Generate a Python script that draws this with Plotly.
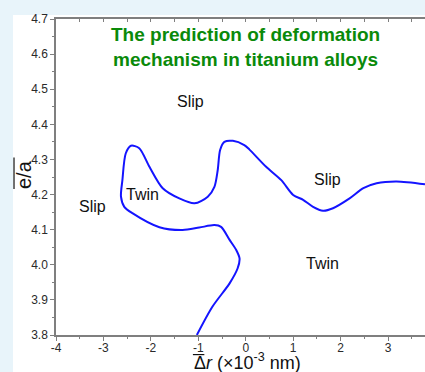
import plotly.graph_objects as go

# Boundary curve (single continuous line)
curve_x = [-1.03, -0.70, -0.34, -0.17, -0.13, -0.20, -0.34, -0.52, -0.66, -0.98,
           -1.33, -1.82, -2.39, -2.56, -2.63, -2.60, -2.53, -2.42, -2.245, -2.03,
           -1.75, -1.40, -1.08, -0.80, -0.66, -0.59, -0.54, -0.45, -0.27, -0.03,
           0.08, 0.43, 0.75, 1.00, 1.21, 1.42, 1.63, 1.84, 2.19, 2.48,
           2.76, 3.18, 3.78]
curve_y = [3.800, 3.881, 3.947, 3.990, 4.018, 4.042, 4.071, 4.108, 4.113, 4.106,
           4.099, 4.107, 4.147, 4.165, 4.194, 4.241, 4.317, 4.339, 4.332, 4.279,
           4.218, 4.189, 4.175, 4.194, 4.222, 4.270, 4.327, 4.350, 4.353, 4.341,
           4.328, 4.279, 4.241, 4.199, 4.185, 4.165, 4.154, 4.161, 4.189, 4.218,
           4.232, 4.237, 4.229]

region_labels = ["Slip", "Twin", "Slip", "Slip", "Twin"]
region_x = [-1.17, -2.18, -3.24, 1.73, 1.62]
region_y = [4.464, 4.200, 4.165, 4.244, 4.005]

x_tick_vals = [-4, -3, -2, -1, 0, 1, 2, 3]
x_tick_text = ["-4", "-3", "-2", "-1", "0", "1", "2", "3"]
y_tick_vals = [3.8, 3.9, 4.0, 4.1, 4.2, 4.3, 4.4, 4.5, 4.6, 4.7]
y_tick_text = ["3.8", "3.9", "4.0", "4.1", "4.2", "4.3", "4.4", "4.5", "4.6", "4.7"]

title_text = "The prediction of deformation<br>mechanism in titanium alloys"

AXC = "#7f7f7f"
TXT = "#2a2a2a"
FONT = "Liberation Sans, Arial, sans-serif"

fig = go.Figure()
fig.add_trace(go.Scatter(x=curve_x, y=curve_y, mode="lines",
                         line=dict(color="#1414ff", width=2, shape="spline", smoothing=0.8),
                         hoverinfo="skip", showlegend=False))
# invisible trace for top mirror axis
fig.add_trace(go.Scatter(x=[curve_x[0]], y=[curve_y[0]], xaxis="x2", mode="markers",
                         marker=dict(opacity=0), showlegend=False, hoverinfo="skip"))

for t, x, y in zip(region_labels, region_x, region_y):
    fig.add_annotation(x=x, y=y, text=t, showarrow=False, xref="x", yref="y",
                       font=dict(family=FONT, size=16, color="#111111"))

fig.add_annotation(x=-0.015, y=4.619, text="<b>" + title_text + "</b>", showarrow=False,
                   xref="x", yref="y", font=dict(family=FONT, size=19, color="#0a8a0a"))

# axis titles
fig.add_annotation(x=-0.087, y=0.509, xref="paper", yref="paper", text="e/a",
                   textangle=-90, showarrow=False, xanchor="center", yanchor="middle",
                   font=dict(family=FONT, size=20, color="#111111"))
fig.add_annotation(x=0.3686, y=-0.083, xref="paper", yref="paper", xanchor="left",
                   yanchor="middle",
                   text="Δ<i>r</i> (×10<sup>-3</sup> nm)", showarrow=False,
                   font=dict(family=FONT, size=18, color="#111111"))

shapes = [
    dict(type="rect", xref="paper", yref="paper", x0=-0.1165, x1=1.2, y0=-0.3, y1=1.0127,
         fillcolor="white", line=dict(width=0), layer="below"),
    dict(type="line", xref="paper", yref="paper", x0=-0.1138, x1=-0.1138, y0=0.462, y1=0.562,
         line=dict(color="#111111", width=1.2)),
    dict(type="line", xref="paper", yref="paper", x0=0.371, x1=0.402, y0=-0.062, y1=-0.062,
         line=dict(color="#111111", width=1.2)),
]

fig.update_layout(
    width=425, height=372,
    margin=dict(l=56, r=0, t=19, b=37, pad=0),
    paper_bgcolor="#e8f4fa", plot_bgcolor="white",
    shapes=shapes,
    xaxis=dict(range=[-4, 3.78], tickvals=x_tick_vals, ticktext=x_tick_text,
               showgrid=False, zeroline=False, showline=True, linecolor=AXC, linewidth=1.5,
               ticks="outside", ticklen=4, tickwidth=1, tickcolor=AXC,
               ticklabelstandoff=-3,
               tickfont=dict(family=FONT, size=12, color=TXT),
               minor=dict(ticks="outside", ticklen=2, dtick=0.5, tickcolor=AXC, showgrid=False)),
    xaxis2=dict(range=[-4, 3.78], overlaying="x", side="top", matches="x",
                showticklabels=False, showgrid=False, zeroline=False, showline=True,
                linecolor=AXC, linewidth=1.5, ticks="inside", ticklen=3, tickcolor=AXC,
                tickvals=x_tick_vals,
                minor=dict(ticks="inside", ticklen=3, dtick=0.5, tickcolor=AXC, showgrid=False)),
    yaxis=dict(range=[3.8, 4.7], tickvals=y_tick_vals, ticktext=y_tick_text,
               showgrid=False, zeroline=False, showline=True, linecolor=AXC, linewidth=1.5,
               ticks="outside", ticklen=4, tickwidth=1, tickcolor=AXC,
               tickfont=dict(family=FONT, size=12, color=TXT),
               minor=dict(ticks="outside", ticklen=2, dtick=0.05, tickcolor=AXC, showgrid=False)),
    showlegend=False,
)

fig.write_html("out.html")
